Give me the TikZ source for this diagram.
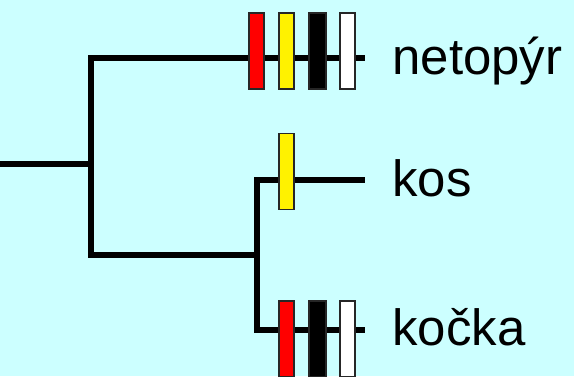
\documentclass[tikz,border=0pt]{standalone}
\usepackage{fontspec}
\setmainfont{Liberation Sans}
\usepackage{tikz}

\definecolor{bgcyan}{RGB}{204,255,255}

\tikzset{
  branch/.style={line width=3pt, line cap=rect},
  charbox/.style={draw=black!85, line width=0.7pt, minimum width=0.3cm,
    minimum height=1.52cm, inner sep=0pt, shape=rectangle},
  taxon/.style={anchor=base west, inner sep=0pt, font=\fontsize{29}{32}\selectfont}
}

\begin{document}
\begin{tikzpicture}[x=0.02cm,y=-0.02cm]
\useasboundingbox[fill=bgcyan] (0,0) rectangle (574,376);

% tree junctions and leaf ends
\coordinate (root) at (0,164);
\coordinate (a) at (91,164);
\coordinate (b) at (257,255);
\coordinate (e1) at (362,58);
\coordinate (e2) at (362,180);
\coordinate (e3) at (362,330);

\draw[branch] (root) -- (a);
\draw[branch] (a) |- (e1);
\draw[branch] (a) |- (b);
\draw[branch] (b) |- (e2);
\draw[branch] (b) |- (e3);

% character changes on the branches
\draw (256.5,51)  node (n1) [charbox,fill=red] {};
\draw (286.5,51)  node (n2) [charbox,fill=yellow] {};
\draw (317.5,51)  node (n3) [charbox,fill=black,minimum width=0.34cm] {};
\draw (347.5,51)  node (n4) [charbox,fill=white] {};

\draw (286.5,171.5) node (k1) [charbox,fill=yellow] {};

\draw (286.5,339) node (c1) [charbox,fill=red] {};
\draw (317.5,339) node (c2) [charbox,fill=black,minimum width=0.34cm] {};
\draw (347.5,339) node (c3) [charbox,fill=white] {};

% taxa
\node (netopyr) [taxon] at (392,74)  {netopýr};
\node (kos)     [taxon] at (392,196) {kos};
\node (kocka)   [taxon] at (392,345) {kočka};

\end{tikzpicture}
\end{document}
